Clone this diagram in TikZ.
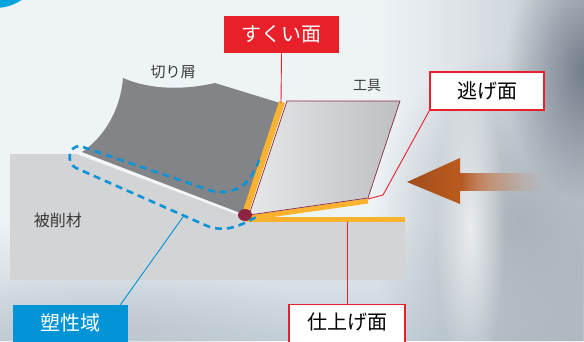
\documentclass[tikz,border=0pt]{standalone}
\usepackage{fontspec}
\newfontfamily\jp{Noto Sans CJK JP}
\usetikzlibrary{fadings}

% fadings used for the backdrop and the feed arrow
\tikzfading[name=fadeL, left color=transparent!100, right color=transparent!0]
\tikzfading[name=fadeT, top color=transparent!100, bottom color=transparent!0]
\tikzfading[name=soft, inner color=transparent!0, outer color=transparent!100]
\tikzfading[name=tailfade, left color=transparent!0, middle color=transparent!25, right color=transparent!100]

\definecolor{bgA}{HTML}{EEF3F6}
\definecolor{metal}{HTML}{A0AAB3}
\definecolor{steel}{HTML}{5E6A79}
\definecolor{haze}{HTML}{C4D0D9}
\definecolor{work}{HTML}{D3D4D6}
\definecolor{chipD}{HTML}{59595B}
\definecolor{chipL}{HTML}{838488}
\definecolor{toolL}{HTML}{E6E7E9}
\definecolor{toolD}{HTML}{BEBFC2}
\definecolor{edge}{HTML}{8C2A40}
\definecolor{band}{HTML}{FBB22F}
\definecolor{tipc}{HTML}{8E2442}
\definecolor{zone}{HTML}{0A93D6}
\definecolor{lblred}{HTML}{E8202A}
\definecolor{lblblue}{HTML}{0093D6}
\definecolor{arrowc}{HTML}{B35620}
\definecolor{txt}{HTML}{3A3A3A}

\tikzset{
  tagfont/.style={font=\jp\fontsize{20}{20}\selectfont},
  redtag/.style={tagfont, fill=lblred, text=white, minimum width=115pt, minimum height=37pt, inner sep=0pt},
  outtag/.style={tagfont, draw=lblred, line width=1.2pt, fill=white, text=black, minimum width=114pt, minimum height=38pt, inner sep=0pt},
  lowtag/.style={tagfont, inner sep=0pt, anchor=north, text height=25pt, text depth=22pt},
  leadR/.style={draw=lblred, line width=0.9pt},
  leadB/.style={draw=lblblue, line width=0.9pt},
  partlbl/.style={text=txt, inner sep=0pt},
  bandline/.style={draw=band, line width=5pt},
  zoneline/.style={draw=zone, line width=2.6pt, dash pattern=on 7pt off 5pt},
  blob/.style={path fading=soft},
}

\begin{document}
\begin{tikzpicture}[x=1pt, y=-1pt]
\useasboundingbox (0,0) rectangle (584,341);
\clip (0,0) rectangle (584,341);

% backdrop: pale sky with a steel shank on the right
\fill[bgA] (0,0) rectangle (584,341);
\fill[haze, path fading=fadeT] (0,220) rectangle (584,341);
\fill[metal, opacity=0.55, path fading=fadeL] (380,0) rectangle (584,341);
\fill[metal, opacity=0.8, blob] (520,220) ellipse (150 and 170);
\fill[steel, opacity=0.8, blob] (585,70) ellipse (80 and 130);
\fill[white, opacity=0.7, blob] (470,230) ellipse (35 and 150);
\fill[haze!80!gray, opacity=0.6, blob] (120,330) ellipse (200 and 60);
\fill[lblblue!85!cyan] (-5,-40) circle (48);

% workpiece
\fill[work] (10,154) -- (76,154) -- (244,217) -- (405,217) -- (405,280) -- (10,280) -- cycle;

% chip
\shade[left color=chipL, middle color=chipD, right color=chipL]
  (82,152) .. controls (100,140) and (120,115) .. (123,78)
  .. controls (150,90) and (185,90) .. (215,83)
  -- (280,103) -- (243,214) -- cycle;
\draw[white, line width=0.6pt] (80,153) -- (243,216);

% rake face, flank face and finished surface
\draw[bandline, line width=6pt] (282,102) -- (245,214);
\draw[bandline] (248,218) -- (368,201);
\draw[bandline] (246,219.5) -- (405,219.5);

% tool
\shade[left color=toolL, right color=toolD, draw=edge, line width=0.7pt]
  (287,101) -- (400,101) -- (368,198) -- (249,215) -- cycle;

% cutting edge
\fill[tipc] (245,215) ellipse (7 and 6);

% plastic zone
\draw[zoneline]
  (259,160) .. controls (250,185) and (238,193) .. (215,192)
  -- (80,146) .. controls (68,146) and (66,163) .. (76,168)
  -- (205,225) .. controls (225,234) and (242,225) .. (258,216);

% feed direction
\shade[left color=arrowc, right color=arrowc!55!white, path fading=tailfade]
  (459,173) rectangle (545,190);
\shade[left color=arrowc!90!black, right color=arrowc!90!orange]
  (407,182) -- (460,158) -- (460,204) -- cycle;

% part labels
\node[partlbl, font=\jp\fontsize{15}{15}\selectfont] (chiplbl) at (173,72) {切り屑};
\node[partlbl, font=\jp\fontsize{14}{14}\selectfont] (toollbl) at (367,85) {工具};
\node[partlbl, font=\jp\fontsize{16}{16}\selectfont] (worklbl) at (58,220) {被削材};

% callouts
\node[redtag] (rake) at (281.5,34.5) {すくい面};
\node[outtag] (flank) at (487,91) {逃げ面};
\node[lowtag, draw=lblred, line width=1.2pt, fill=white, text=black, minimum width=116pt] (finish) at (347,304) {仕上げ面};
\node[lowtag, fill=lblblue, text=white, minimum width=115pt] (plastic) at (70.5,305) {塑性域};

\coordinate (rakePt) at (281,103);
\coordinate (flankBend) at (383,195);
\coordinate (flankPt) at (368,199);
\coordinate (finishPt) at (347,222);
\coordinate (plasticPt) at (183,217);

\draw[leadR] (rake.south) -- (rakePt);
\draw[leadR] (flank.south west) -- (flankBend) -- (flankPt);
\draw[leadR] (finish.north) -- (finishPt);
\draw[leadB] ([xshift=-8pt]plastic.north east) -- (plasticPt);
\end{tikzpicture}
\end{document}
